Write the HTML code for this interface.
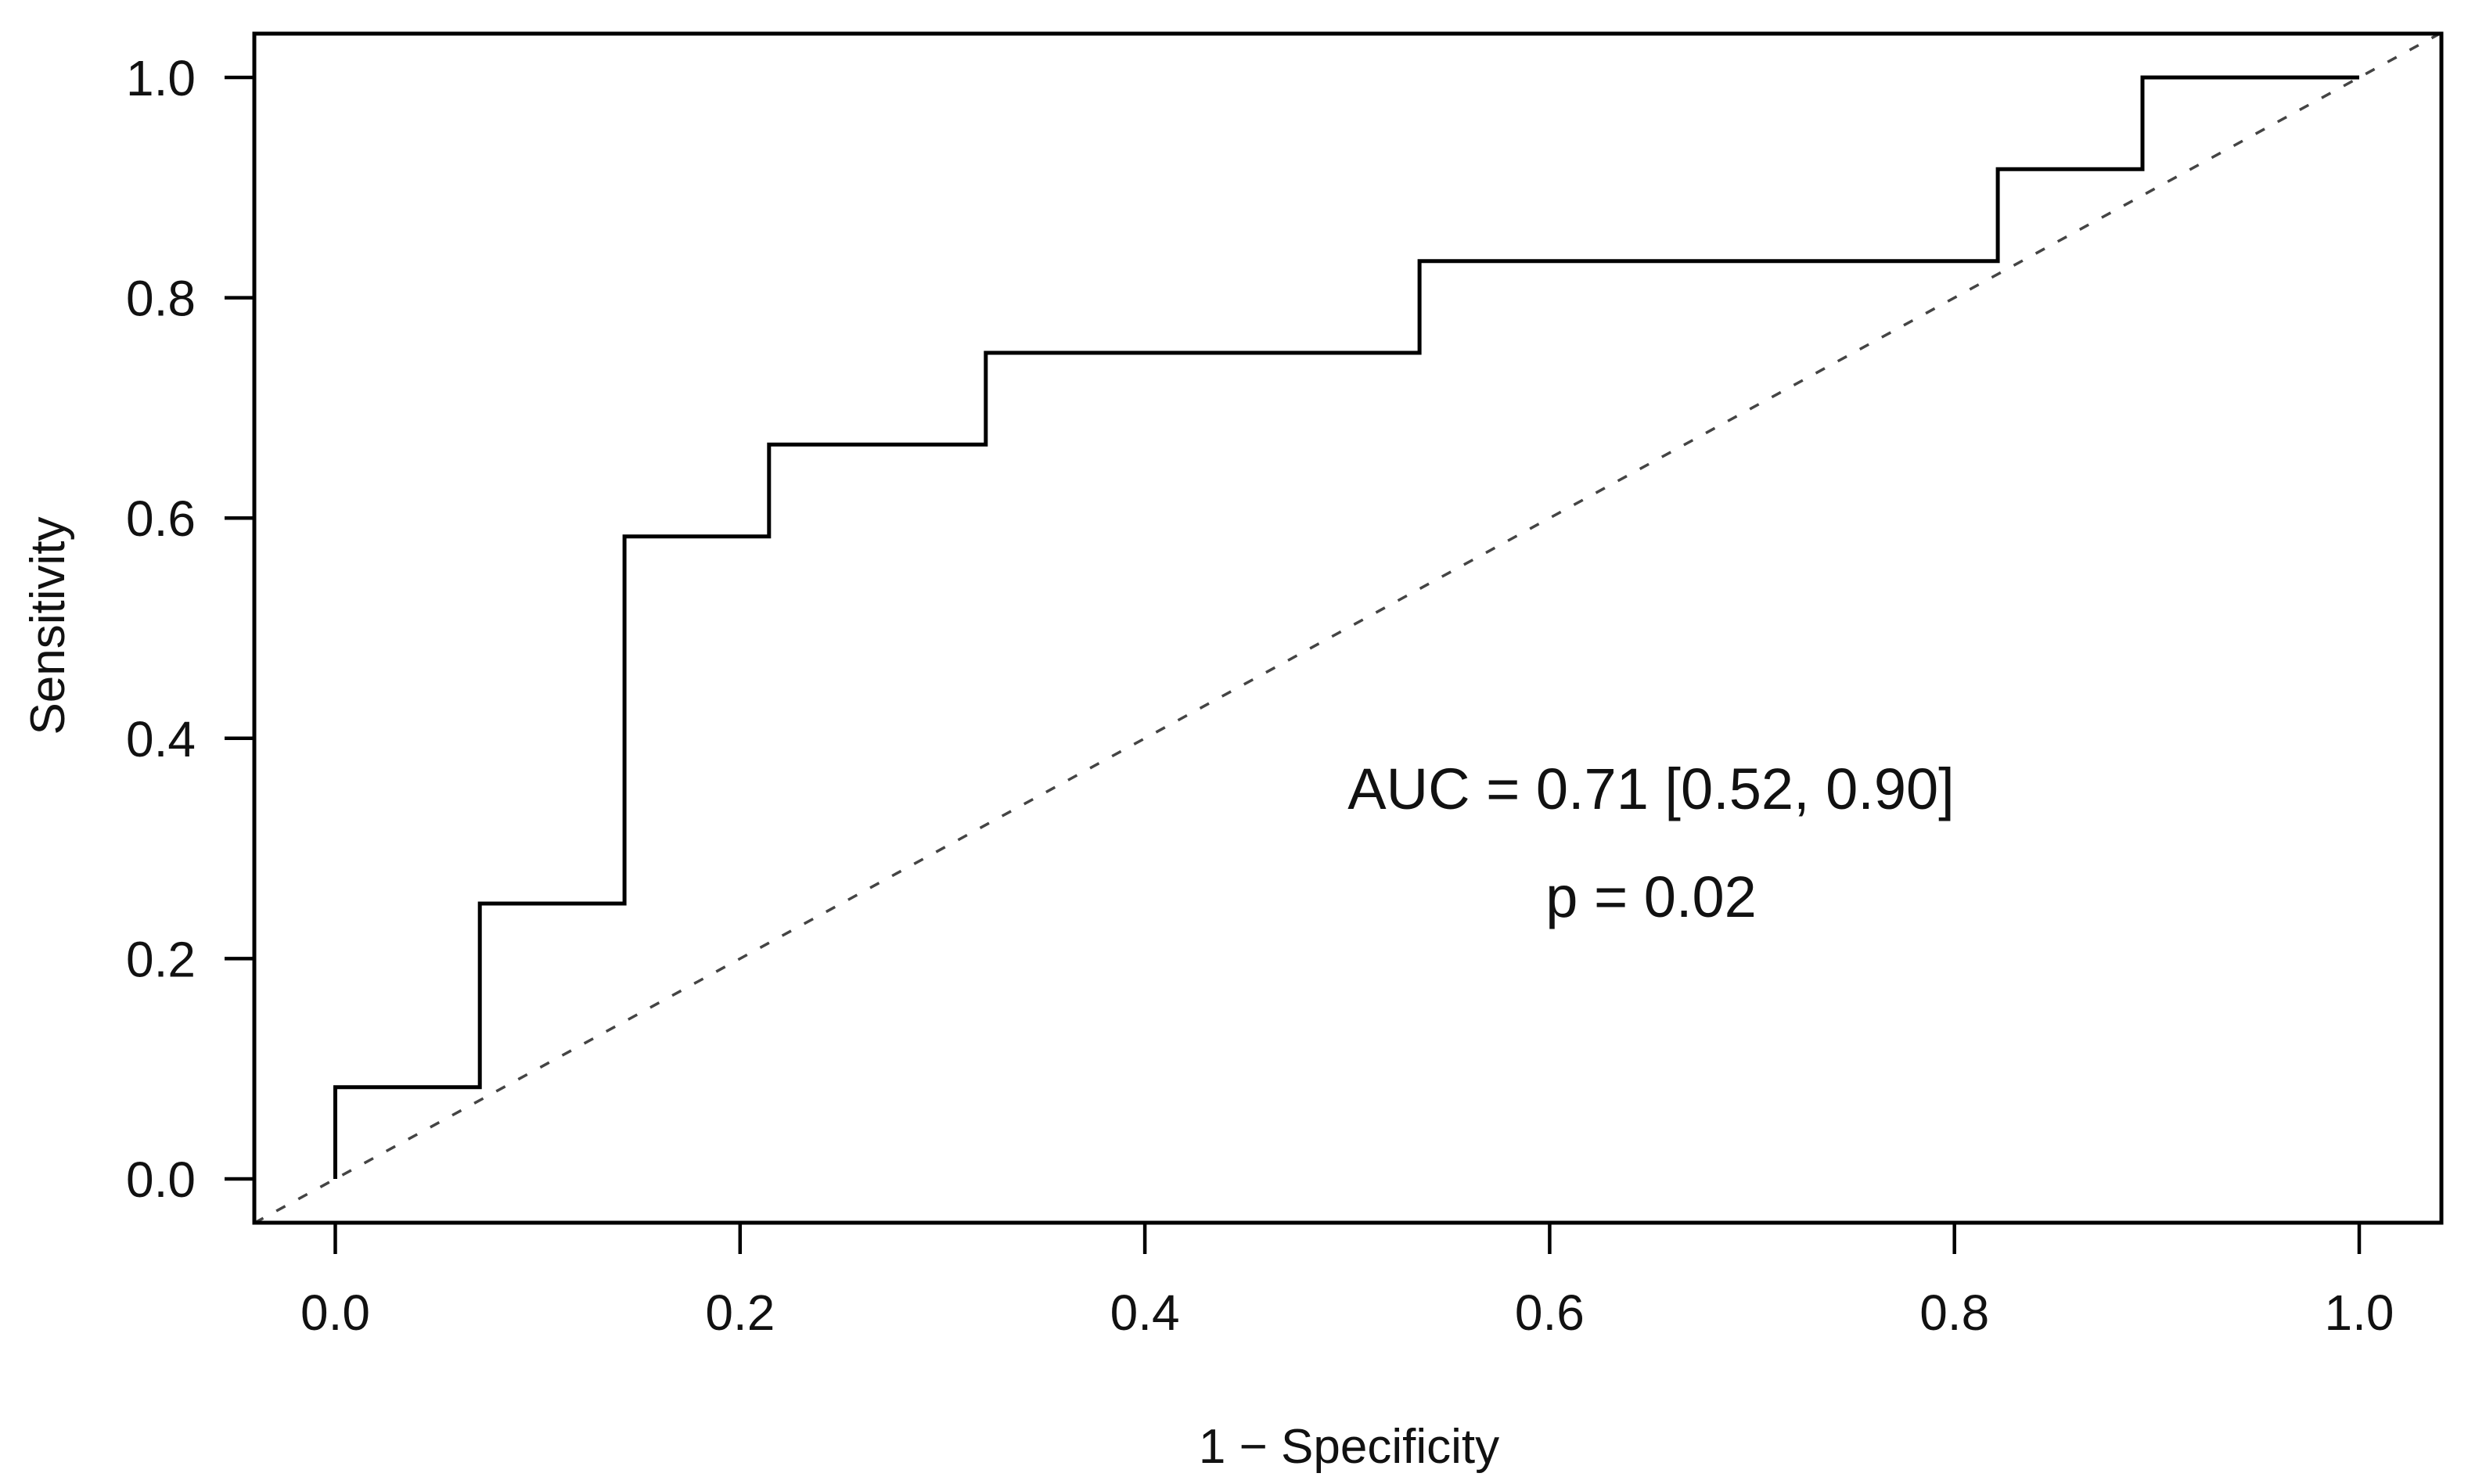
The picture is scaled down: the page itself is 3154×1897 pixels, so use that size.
<!DOCTYPE html>
<html><head><meta charset="utf-8"><style>html,body{margin:0;padding:0;background:#fff}svg{display:block}text{font-family:"Liberation Sans",sans-serif;fill:#111}</style></head>
<body>
<svg id="chart" width="3154" height="1897" viewBox="0 0 3154 1897" xmlns="http://www.w3.org/2000/svg">
<rect x="0" y="0" width="3154" height="1897" fill="#fff"/>
<g id="plot"></g>
</svg>
<script>
const fpr = [0, 0, 0.0714, 0.0714, 0.1429, 0.1429, 0.2143, 0.2143, 0.3214, 0.3214, 0.5357, 0.5357, 0.8214, 0.8214, 0.8929, 0.8929, 1.0];
const tpr = [0, 0.0833, 0.0833, 0.25, 0.25, 0.5833, 0.5833, 0.6667, 0.6667, 0.75, 0.75, 0.8333, 0.8333, 0.9167, 0.9167, 1.0, 1.0];
const xTicks = [0, 0.2, 0.4, 0.6, 0.8, 1.0];
const xTickLabels = ["0.0", "0.2", "0.4", "0.6", "0.8", "1.0"];
const yTicks = [0, 0.2, 0.4, 0.6, 0.8, 1.0];
const yTickLabels = ["0.0", "0.2", "0.4", "0.6", "0.8", "1.0"];
const xDomain = [-0.04, 1.04];
const yDomain = [-0.04, 1.04];

const NS = "http://www.w3.org/2000/svg";
const L = 325, R = 3120, T = 43, B = 1563;
const X0 = 428.5, X1 = 3015, Y0 = 1507, Y1 = 99;
function sx(v){ return X0 + v * (X1 - X0); }
function sy(v){ return Y0 + v * (Y1 - Y0); }
const g = document.getElementById('plot');
function mk(tag, attrs, parent){ const e = document.createElementNS(NS, tag); for (const k in attrs) e.setAttribute(k, attrs[k]); (parent||g).appendChild(e); return e; }

const d0 = Math.max(xDomain[0], yDomain[0]), d1 = Math.min(xDomain[1], yDomain[1]);
const diag = mk('line', {x1: sx(d0), y1: sy(d0), x2: sx(d1), y2: sy(d1), stroke: '#444', 'stroke-width': 3.5, 'stroke-dasharray': '13 19'});



let pts = fpr.map((f, i) => sx(f).toFixed(1) + ',' + sy(tpr[i]).toFixed(1)).join(' ');
const roc = mk('polyline', {points: pts, fill: 'none', stroke: '#000', 'stroke-width': 5, 'stroke-linejoin': 'miter'});



const box = mk('rect', {x: L, y: T, width: R - L, height: B - T, fill: 'none', stroke: '#000', 'stroke-width': 5});



xTicks.forEach((v, i) => {
  const t = mk('line', {x1: sx(v), y1: B, x2: sx(v), y2: B + 40, stroke: '#000', 'stroke-width': 4.5});
  
  
  const lb = mk('text', {x: sx(v), y: 1700, 'font-size': 64, 'text-anchor': 'middle'});
  lb.textContent = xTickLabels[i];
  
  
});
yTicks.forEach((v, i) => {
  const t = mk('line', {x1: L, y1: sy(v), x2: L - 38, y2: sy(v), stroke: '#000', 'stroke-width': 4.5});
  
  
  const lb = mk('text', {x: 250, y: sy(v) + 23, 'font-size': 64, 'text-anchor': 'end'});
  lb.textContent = yTickLabels[i];
  
  
});

const xt = mk('text', {x: 1724, y: 1870, 'font-size': 62, 'text-anchor': 'middle'});
xt.textContent = '1 \u2212 Specificity';



const yt = mk('text', {x: 0, y: 0, 'font-size': 62, 'text-anchor': 'middle', transform: 'translate(82,800) rotate(-90)'});
yt.textContent = 'Sensitivity';



const a1 = mk('text', {x: 2110, y: 1034, 'font-size': 74, 'text-anchor': 'middle'});
a1.textContent = 'AUC = 0.71 [0.52, 0.90]';



const a2 = mk('text', {x: 2110, y: 1172, 'font-size': 74, 'text-anchor': 'middle'});
a2.textContent = 'p = 0.02';


</script>
</body></html>
